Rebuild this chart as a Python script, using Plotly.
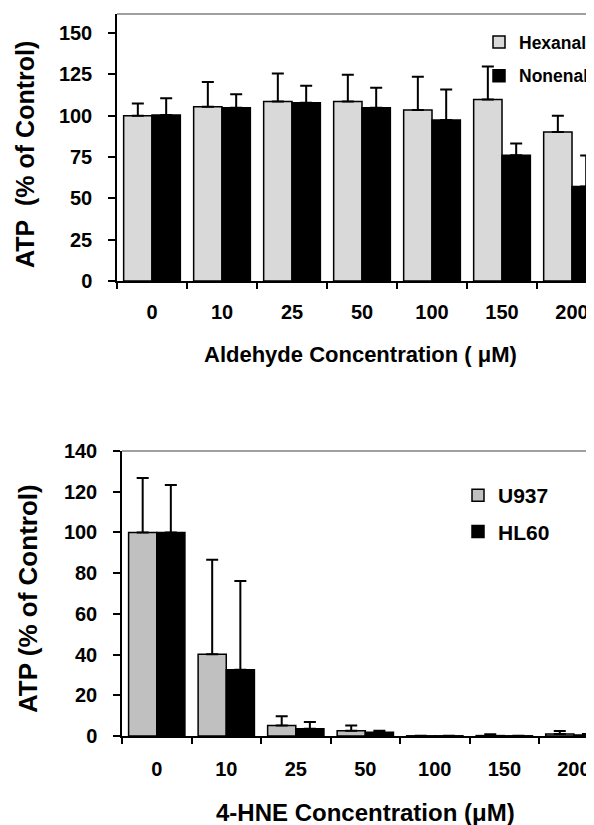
import plotly.graph_objects as go

# page body has an 8px margin, so the figure is drawn 8px right/down;
# coordinates below are given in window (screen) pixels and converted.
OFF = 8
W, H = 594 - OFF, 825 - OFF

# ---------------- data ----------------
categories = ["0", "10", "25", "50", "100", "150", "200"]

hexanal = [100.0, 105.4, 108.6, 108.6, 103.4, 109.8, 90.2]
hexanal_err = [7.4, 14.9, 16.9, 16.1, 20.1, 19.9, 9.8]
nonenal = [100.4, 104.8, 107.8, 104.8, 97.4, 76.1, 57.2]
nonenal_err = [10.2, 8.1, 10.3, 12.1, 18.5, 7.0, 18.7]

u937 = [100.0, 40.2, 5.2, 2.6, 0.1, 0.2, 1.0]
u937_err = [26.7, 46.4, 4.5, 2.5, 0.0, 0.6, 1.5]
hl60 = [100.0, 32.5, 3.6, 1.8, 0.1, 0.1, 0.5]
hl60_err = [23.3, 43.6, 3.3, 0.8, 0.0, 0.0, 0.5]

top_yticks = [0, 25, 50, 75, 100, 125, 150]
bot_yticks = [0, 20, 40, 60, 80, 100, 120, 140]

FONT = "Arial, Liberation Sans, Helvetica, sans-serif"


def fx(x):
    return (x - OFF) / W


def fy(y):
    return 1 - (y - OFF) / H


def err(arr):
    return dict(type="data", symmetric=False, array=arr,
                arrayminus=[0] * len(arr), color="black",
                thickness=2, width=6)


fig = go.Figure()

fig.add_trace(go.Bar(x=categories, y=hexanal, name="Hexanal", legendgroup="a",
                     marker=dict(color="#d9d9d9", line=dict(color="black", width=1.5)),
                     error_y=err(hexanal_err), xaxis="x", yaxis="y", legend="legend"))
fig.add_trace(go.Bar(x=categories, y=nonenal, name="Nonenal", legendgroup="b",
                     marker=dict(color="black", line=dict(color="black", width=1.5)),
                     error_y=err(nonenal_err), xaxis="x", yaxis="y", legend="legend"))
fig.add_trace(go.Bar(x=categories, y=u937, name="U937", legendgroup="c",
                     marker=dict(color="#c0c0c0", line=dict(color="black", width=1.5)),
                     error_y=err(u937_err), xaxis="x2", yaxis="y2", legend="legend2"))
fig.add_trace(go.Bar(x=categories, y=hl60, name="HL60", legendgroup="d",
                     marker=dict(color="black", line=dict(color="black", width=1.5)),
                     error_y=err(hl60_err), xaxis="x2", yaxis="y2", legend="legend2"))

xcommon = dict(type="category", showline=True, linecolor="black", linewidth=1.5,
               ticks="outside", tickson="boundaries", ticklen=6, tickwidth=1.5,
               tickcolor="black", showgrid=False, zeroline=False,
               tickfont=dict(family=FONT, size=20, color="black", weight="bold"))
ycommon = dict(showline=True, linecolor="black", linewidth=1.5,
               ticks="outside", ticklen=7, tickwidth=1.5, tickcolor="black",
               showgrid=False, zeroline=False, ticklabelstandoff=12,
               tickfont=dict(family=FONT, size=20, color="black", weight="bold"))

fig.update_layout(
    width=W, height=H,
    margin=dict(l=0, r=0, t=0, b=0, pad=0, autoexpand=False),
    paper_bgcolor="white", plot_bgcolor="white",
    barmode="group", bargap=0.19, bargroupgap=0,
    showlegend=True,
    xaxis=dict(xcommon, domain=[fx(117), 1], range=[-0.5, 6.314],
               anchor="y", ticklabelstandoff=12),
    yaxis=dict(ycommon, domain=[fy(281), fy(14)], range=[0, 161.5],
               tickvals=top_yticks, anchor="x"),
    xaxis2=dict(xcommon, domain=[fx(122), 1], range=[-0.5, 6.29],
                anchor="y2", ticklabelstandoff=14),
    yaxis2=dict(ycommon, domain=[fy(736), fy(451)], range=[0, 140.01],
                tickvals=bot_yticks, anchor="x2"),
    legend=dict(x=fx(479), y=fy(24), xanchor="left", yanchor="top",
                bgcolor="rgba(0,0,0,0)", tracegroupgap=8, traceorder="grouped",
                font=dict(family=FONT, size=17.5, color="black", weight="bold")),
    legend2=dict(x=fx(458), y=fy(475), xanchor="left", yanchor="top",
                 bgcolor="rgba(0,0,0,0)", tracegroupgap=6, traceorder="grouped",
                 font=dict(family=FONT, size=21, color="black", weight="bold")),
    shapes=[
        dict(type="line", xref="x domain", yref="y domain", x0=0, x1=1, y0=1, y1=1,
             line=dict(color="#808080", width=1.5)),
        dict(type="line", xref="x2 domain", yref="y2 domain", x0=0, x1=1, y0=1, y1=1,
             line=dict(color="#808080", width=1.5)),
    ],
    annotations=[
        dict(text="ATP\u00a0 (% of Control)", x=fx(25), y=fy(155), xref="paper", yref="paper",
             textangle=-90, showarrow=False, xanchor="center", yanchor="middle",
             font=dict(family=FONT, size=25, color="black", weight="bold")),
        dict(text="Aldehyde Concentration ( \u03bcM)", x=fx(360), y=fy(355),
             xref="paper", yref="paper", showarrow=False,
             xanchor="center", yanchor="middle",
             font=dict(family=FONT, size=22, color="black", weight="bold")),
        dict(text="ATP (% of Control)", x=fx(28), y=fy(599), xref="paper", yref="paper",
             textangle=-90, showarrow=False, xanchor="center", yanchor="middle",
             font=dict(family=FONT, size=26, color="black", weight="bold")),
        dict(text="4-HNE Concentration (\u03bcM)", x=fx(365), y=fy(812),
             xref="paper", yref="paper", showarrow=False,
             xanchor="center", yanchor="middle",
             font=dict(family=FONT, size=24, color="black", weight="bold")),
    ],
)

fig.write_html("out.html")
